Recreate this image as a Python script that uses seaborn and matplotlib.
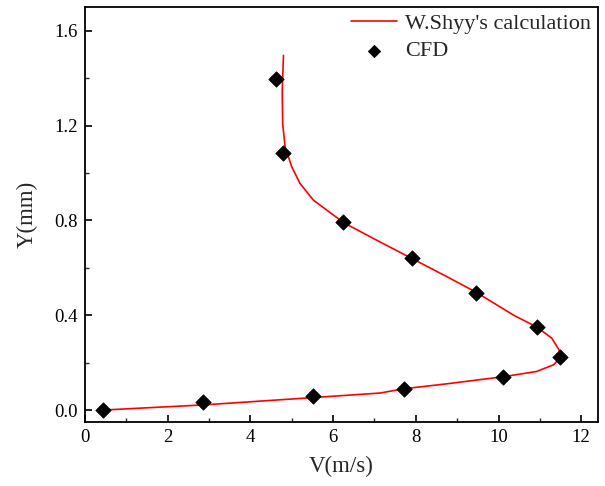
import matplotlib
matplotlib.use("Agg")
import matplotlib.pyplot as plt
import pandas as pd
import seaborn as sns
from matplotlib.ticker import MultipleLocator, FormatStrFormatter

# W.Shyy's calculated velocity profile (V in m/s, Y in mm)
calc_v = [0.40, 2.86, 5.52, 7.13, 7.71, 8.75, 10.12, 10.92, 11.33, 11.49,
          11.49, 11.29, 10.94, 10.36, 9.46, 8.75, 7.90, 7.05, 6.26, 5.52,
          5.20, 5.00, 4.84, 4.78, 4.77, 4.80]
calc_y = [0.000, 0.022, 0.053, 0.072, 0.090, 0.111, 0.141, 0.163, 0.191, 0.219,
          0.247, 0.303, 0.349, 0.401, 0.497, 0.563, 0.640, 0.717, 0.790, 0.886,
          0.956, 1.026, 1.110, 1.208, 1.349, 1.496]

# CFD results
cfd_v = [0.43, 2.85, 5.52, 7.72, 10.12, 11.49, 10.93, 9.46, 7.92, 6.25, 4.80, 4.61]
cfd_y = [0.000, 0.035, 0.061, 0.091, 0.140, 0.226, 0.349, 0.495, 0.640, 0.794, 1.085, 1.398]

x_ticks = [0, 2, 4, 6, 8, 10, 12]
y_ticks = [0.0, 0.4, 0.8, 1.2, 1.6]

sns.set_theme(style="white")
plt.rcParams["font.family"] = ["Liberation Serif", "DejaVu Serif"]
plt.rcParams["xtick.direction"] = "in"
plt.rcParams["ytick.direction"] = "in"

fig = plt.figure(figsize=(6.05, 4.86), dpi=100)
ax = fig.add_axes([0.1405, 0.1317, 0.8475, 0.8539])

calc = pd.DataFrame({"V": calc_v, "Y": calc_y})
cfd = pd.DataFrame({"V": cfd_v, "Y": cfd_y})

sns.lineplot(data=calc, x="V", y="Y", sort=False, estimator=None, color="#ff0000",
             linewidth=1.2, ax=ax, label="W.Shyy's calculation")
sns.scatterplot(data=cfd, x="V", y="Y", marker="D", s=62, color="black",
                edgecolor="black", linewidth=0.5, ax=ax, label="CFD", zorder=3)

ax.set_xlim(0, 12.4)
ax.set_ylim(-0.05, 1.7)
ax.set_xticks(x_ticks)
ax.set_yticks(y_ticks)
ax.yaxis.set_major_formatter(FormatStrFormatter("%.1f"))
ax.xaxis.set_minor_locator(MultipleLocator(1))
ax.yaxis.set_minor_locator(MultipleLocator(0.2))
ax.tick_params(axis="both", which="major", direction="in", length=5, width=1.2,
               labelsize=13.5, colors="black", bottom=True, left=True, top=False, right=False)
ax.tick_params(axis="both", which="minor", direction="in", length=3, width=1.0,
               bottom=True, left=True, top=False, right=False)
ax.tick_params(axis="x", which="major", pad=5)
ax.tick_params(axis="y", which="major", pad=5)

for s in ax.spines.values():
    s.set_visible(True)
    s.set_color("black")
    s.set_linewidth(1.3)

ax.set_xlabel("V(m/s)", fontsize=16.5, labelpad=7)
ax.set_ylabel("Y(mm)", fontsize=16.5, labelpad=12)

ax.legend(loc="upper right", bbox_to_anchor=(1.0, 1.0), frameon=False, fontsize=16,
          borderaxespad=0.0, borderpad=0.3, handlelength=2.1, handletextpad=0.35,
          labelspacing=0.3, markerscale=0.8)

fig.savefig("out.png", dpi=100)
